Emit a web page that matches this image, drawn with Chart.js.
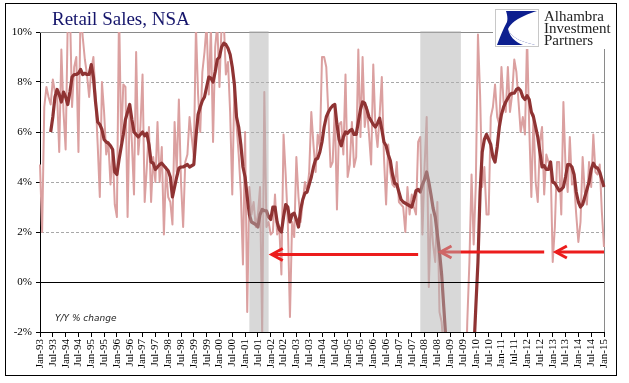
<!DOCTYPE html>
<html><head><meta charset="utf-8">
<script src="https://cdn.jsdelivr.net/npm/chart.js@4.4.1/dist/chart.umd.min.js"></script>
<style>
html,body{margin:0;padding:0;background:#fff;}
#wrap{position:relative;width:629px;height:383px;overflow:hidden;background:#fff;}
#c{position:absolute;left:0;top:0;}
#frame{position:absolute;left:5px;top:3px;width:610px;height:371px;border:1px solid #000;pointer-events:none;}
#title{position:absolute;left:52px;top:9px;font:19px/19px "Liberation Serif",serif;color:#15156b;white-space:nowrap;}
#logo{position:absolute;left:493px;top:4px;width:121px;height:45px;background:#fff;}
#logo svg{position:absolute;left:2px;top:5px;}
#logoText{position:absolute;left:51px;top:6px;font:15px/12px "Liberation Serif",serif;color:#222;white-space:nowrap;}
#note{position:absolute;left:55px;top:314px;font:italic 9px/9px "DejaVu Sans",sans-serif;color:#222;white-space:nowrap;}
</style></head>
<body>
<div id="wrap">
<canvas id="c" width="629" height="383"></canvas>
<div id="frame"></div>
<div id="title">Retail Sales, NSA</div>
<div id="logo">
<svg width="44" height="38" viewBox="0 0 44 38">
<rect x="0.5" y="0.5" width="43" height="37" fill="#fff" stroke="#c8c8c8"/>
<path d="M11 2 L42 2 C30 6 17 11 13 20 C16 29 27 33 40 36 L2 36 C5 28 8 20 12 13 C13 9 12 5 11 2 Z" fill="#0d1f8f"/>
<path d="M13 20 C16 29 27 33 40 36 L28 36 C20 33 15 28 13 20 Z" fill="#fff"/>
</svg>
<div id="logoText">Alhambra<br>Investment<br>Partners</div>
</div>
<div id="note">Y/Y % change</div>
</div>
<script>
// ---- data ----
const monthNames = ['Jan','Feb','Mar','Apr','May','Jun','Jul','Aug','Sep','Oct','Nov','Dec'];
const categories = [];
for (let yr = 1993; yr <= 2015; yr++) {
  for (let m = 0; m < 12; m++) {
    if (yr === 2015 && m > 0) break;
    categories.push(monthNames[m] + '-' + String(yr % 100).padStart(2, '0'));
  }
}
const tickLabels = ['Jan-93','Jul-93','Jan-94','Jul-94','Jan-95','Jul-95','Jan-96','Jul-96','Jan-97','Jul-97',
  'Jan-98','Jul-98','Jan-99','Jul-99','Jan-00','Jul-00','Jan-01','Jul-01','Jan-02','Jul-02','Jan-03','Jul-03',
  'Jan-04','Jul-04','Jan-05','Jul-05','Jan-06','Jul-06','Jan-07','Jul-07','Jan-08','Jul-08','Jan-09','Jul-09',
  'Jan-10','Jul-10','Jan-11','Jul-11','Jan-12','Jul-12','Jan-13','Jul-13','Jan-14','Jul-14','Jan-15'];
const yTicks = [-2, 0, 2, 4, 6, 8, 10];

// monthly Y/Y % change (light line)
const retailYoY = [
  4.7, 2.0, 7.0, 7.8, 7.4, 7.1, 8.1, 7.6, 7.5, 5.2, 9.3, 6.8,
  5.3, 10.5, 11.0, 7.0, 8.6, 9.0, 5.2, 11.0, 9.8, 8.9, 8.3, 7.4,
  8.5, 9.0, 7.4, 5.5, 3.4, 8.0, 6.8, 5.1, 5.6, 3.9, 5.3, 3.1,
  2.6, 11.0, 5.6, 7.9, 7.8, 2.6, 7.1, 5.6, 3.5, 9.2, 5.1, 6.2,
  8.3, 3.2, 4.6, 6.2, 3.2, 5.0, 4.0, 6.4, 4.0, 5.4, 1.9, 4.6,
  3.4, 3.2, 2.3, 6.4, 4.4, 7.3, 4.0, 2.2, 4.8, 5.1, 6.6, 5.8,
  5.0, 10.2, 7.5, 6.0, 8.4, 9.2, 10.3, 7.5, 10.2, 5.6, 9.4, 10.3,
  7.8, 10.3, 10.5, 8.3, 8.8, 6.8, 3.5, 7.9, 6.3, 5.1, 3.6, 0.7,
  6.0, -1.2, 3.8, 2.7, 3.2, 2.2, 2.7, 3.8, -2.1, 7.6, 2.2, 2.4,
  1.9, 2.0, 3.5, 1.9, 2.2, 0.3, 5.9, 4.3, 2.4, -1.4, 2.4, 1.8,
  5.0, 3.4, 2.4, 3.2, 4.0, 3.6, 4.4, 6.8, 5.5, 4.4, 5.9, 5.4,
  9.0, 9.0, 8.6, 6.7, 4.6, 4.8, 7.0, 2.9, 6.3, 6.4, 5.1, 8.3,
  4.2, 4.7, 6.4, 4.6, 5.0, 9.3, 5.8, 9.0, 6.2, 7.0, 5.9, 4.7,
  8.7, 6.2, 5.4, 6.7, 8.2, 5.0, 3.1, 5.5, 4.4, 3.9, 3.8, 4.8,
  3.2, 3.1, 3.0, 2.0, 3.8, 2.7, 3.5, 3.0, 2.7, 5.6, 5.8, 1.9,
  4.6, 6.6, -0.2, 2.7, 1.5, 0.8, 3.2, -1.2, -1.6, -2.8, -4.5, -6.0,
  -8.0, -10.0, -11.0, -10.0, -9.0, -8.0, -7.0, -5.0, -1.6, 0.8, 4.3, 1.5,
  3.9, 9.9, 7.5, 3.8, 4.6, 2.7, 2.7, 6.6, 7.0, 7.9, 6.6, 6.3,
  8.6, 7.2, 6.8, 8.6, 6.8, 7.5, 8.9, 8.4, 7.2, 6.0, 6.6, 5.9,
  9.8, 6.2, 3.4, 6.7, 4.0, 3.2, 5.6, 6.2, 3.5, 5.1, 4.8, 4.7,
  0.8, 2.2, 4.8, 4.8, 2.7, 7.2, 4.6, 3.6, 5.8, 3.9, 4.0, 2.7,
  1.6, 2.4, 5.0, 3.6, 3.1, 4.8, 3.8, 5.9, 4.4, 4.3, 4.7, 2.8,
  1.4
];
// smoothed Y/Y % change (dark line)
const retailSmoothed = [
  null, null, null, null, null, 6.0, 6.6, 7.4, 7.7, 7.5, 7.2, 7.6,
  7.4, 7.1, 7.6, 8.2, 8.3, 8.3, 8.35, 8.5, 8.3, 8.35, 8.3, 8.3,
  8.7, 8.2, 7.2, 6.4, 6.3, 6.1, 5.7, 5.6, 5.55, 5.45, 5.3, 4.4,
  4.3, 4.9, 5.4, 5.9, 6.5, 6.8, 7.1, 6.5, 6.0, 5.9, 5.8, 5.9,
  6.0, 5.85, 5.95, 5.5, 4.8, 4.75, 4.5, 4.6, 4.7, 4.75, 4.65, 4.55,
  4.45, 4.2, 3.4, 3.8, 4.2, 4.55, 4.6, 4.6, 4.65, 4.7, 4.6, 4.65,
  4.7, 5.8, 6.7, 7.0, 7.25, 7.4, 7.8, 8.2, 8.15, 8.0, 8.4, 8.9,
  9.0, 9.4, 9.55, 9.5, 9.35, 9.1, 8.6, 7.9, 6.6, 6.2, 5.5, 4.6,
  4.2, 3.4, 2.7, 2.4, 2.35, 2.3, 2.2, 2.7, 2.9, 2.85, 2.85, 2.6,
  2.5, 3.0, 3.0, 2.4, 2.1, 2.0, 2.6, 3.1, 3.0, 2.4, 2.7, 2.75,
  2.5, 2.2, 2.9, 3.3, 3.55, 3.6, 3.9, 4.2, 4.6, 4.9, 4.95, 5.2,
  5.6, 6.2, 6.6, 6.8, 6.95, 7.05, 7.1, 6.3, 5.7, 5.45, 5.8, 6.0,
  5.95, 6.05, 6.1, 5.9, 5.9, 6.4, 6.9, 7.2, 7.15, 6.9, 6.6, 6.45,
  6.3, 6.2, 6.35, 6.55, 6.1, 5.6, 5.45, 5.1, 4.85, 4.3, 3.95, 3.9,
  3.6, 3.3, 3.2, 3.15, 3.1, 3.05, 3.0, 3.3, 3.65, 3.7, 3.6, 3.9,
  4.1, 4.4, 4.0, 3.5, 2.95, 2.6, 1.9, 1.2, 0.3, -1.0, -2.3, -3.5,
  -5.0, -6.5, -7.5, -8.2, -8.6, -8.5, -8.0, -7.2, -6.2, -5.2, -4.1, -2.9,
  -1.0, 0.8, 3.6, 5.2, 5.7, 5.9, 5.7, 5.5, 5.0, 4.8, 5.4, 6.2,
  6.7, 7.0, 7.2, 7.35, 7.5, 7.55, 7.55, 7.7, 7.75, 7.65, 7.4, 7.3,
  7.45, 7.3, 6.8, 6.6, 6.2, 5.8, 5.2, 4.6, 4.65, 4.5, 4.5, 4.8,
  4.0, 3.95, 3.8, 3.65, 3.7, 3.8, 4.2, 4.7, 4.7, 4.6, 4.3, 3.6,
  3.2, 3.0, 3.1, 3.4, 3.7, 4.0, 4.5, 4.75, 4.6, 4.55, 4.4, 4.1,
  3.8
];
// recession shading (band edges, as months)
const recessions = [['Mar-01', 'Dec-01'], ['Nov-07', 'Jun-09']];
// annotation arrows: head month, tail month, level (%)
const arrows = [
  { head: 'Jan-02', tail: 'Oct-07', level: 1.1 },
  { head: 'Aug-08', tail: 'Sep-12', level: 1.2 },
  { head: 'Feb-13', tail: 'Jan-15', level: 1.2 }
];
const dashedLevels = [2, 4, 6, 8];

// ---- drawing ----
const decor = {
  id: 'decor',
  beforeDatasetsDraw(chart) {
    const { ctx, chartArea: a, scales: { y } } = chart;
    ctx.save();
    ctx.lineWidth = 1;
    ctx.strokeStyle = '#a8a8a8';
    ctx.setLineDash([3, 2]);
    dashedLevels.forEach(v => {
      const py = Math.round(y.getPixelForValue(v)) + 0.5;
      ctx.beginPath(); ctx.moveTo(a.left + 1, py); ctx.lineTo(a.right, py); ctx.stroke();
    });
    ctx.setLineDash([]);
    ctx.strokeStyle = '#8a8a8a';
    const pt = Math.round(y.getPixelForValue(10)) + 0.5;
    ctx.beginPath(); ctx.moveTo(a.left, pt); ctx.lineTo(a.right, pt); ctx.stroke();
    const rx = Math.round(a.right) + 0.5;
    ctx.beginPath(); ctx.moveTo(rx, a.top); ctx.lineTo(rx, a.bottom); ctx.stroke();
    ctx.restore();
  },
  afterDatasetsDraw(chart) {
    const { ctx, chartArea: a, scales: { x, y } } = chart;
    ctx.save();
    // arrows
    ctx.strokeStyle = '#ec1c1c';
    ctx.lineWidth = 3;
    arrows.forEach(ar => {
      const hx = x.getPixelForValue(categories.indexOf(ar.head));
      const tx = x.getPixelForValue(categories.indexOf(ar.tail));
      const py = y.getPixelForValue(ar.level);
      ctx.beginPath(); ctx.moveTo(hx + 1, py); ctx.lineTo(tx, py); ctx.stroke();
      ctx.beginPath(); ctx.moveTo(hx + 12, py - 6); ctx.lineTo(hx + 1, py); ctx.lineTo(hx + 12, py + 6); ctx.stroke();
    });
    // recession bands
    ctx.fillStyle = 'rgba(178,178,178,0.5)';
    recessions.forEach(([s, e]) => {
      const x0 = x.getPixelForValue(categories.indexOf(s));
      const x1 = x.getPixelForValue(categories.indexOf(e));
      ctx.fillRect(x0, a.top - 1, x1 - x0, a.bottom - a.top + 1);
    });
    // zero line
    ctx.strokeStyle = '#000';
    ctx.lineWidth = 1;
    const pz = Math.round(y.getPixelForValue(0)) + 0.5;
    ctx.beginPath(); ctx.moveTo(a.left, pz); ctx.lineTo(a.right, pz); ctx.stroke();
    ctx.restore();
  }
};

new Chart(document.getElementById('c'), {
  type: 'line',
  data: {
    labels: categories,
    datasets: [
      { label: 'Smoothed', data: retailSmoothed, borderColor: '#8f3333', borderWidth: 3.2,
        pointRadius: 0, tension: 0, borderJoinStyle: 'round', spanGaps: false },
      { label: 'Y/Y % change', data: retailYoY, borderColor: '#dba0a0', borderWidth: 2,
        pointRadius: 0, tension: 0, borderJoinStyle: 'round' }
    ]
  },
  options: {
    responsive: false,
    devicePixelRatio: 1,
    animation: false,
    events: [],
    layout: { padding: { left: 0, right: 25, top: 32, bottom: 0 } },
    plugins: { legend: { display: false }, tooltip: { enabled: false }, title: { display: false } },
    scales: {
      x: {
        type: 'category',
        offset: false,
        afterFit(s) { s.height = 51; },
        grid: { display: true, drawOnChartArea: false, drawTicks: true, tickLength: 5, color: '#000', lineWidth: 1 },
        border: { display: true, color: '#000', width: 1 },
        ticks: {
          autoSkip: false, maxRotation: 90, minRotation: 90, padding: 2,
          color: '#000', font: { family: '"Liberation Serif", serif', size: 11 },
          callback(v, i) { const l = categories[i]; return tickLabels.includes(l) ? l : null; }
        }
      },
      y: {
        min: -2, max: 10,
        afterFit(s) { s.width = 40; },
        afterBuildTicks(s) { s.ticks = yTicks.map(v => ({ value: v })); },
        grid: { display: true, drawOnChartArea: false, drawTicks: true, tickLength: 4, color: '#000', lineWidth: 1 },
        border: { display: true, color: '#000', width: 1 },
        ticks: {
          padding: 4, color: '#000', font: { family: '"Liberation Serif", serif', size: 11 },
          callback(v) { return v + '%'; }
        }
      }
    }
  },
  plugins: [decor]
});
</script>
</body></html>
